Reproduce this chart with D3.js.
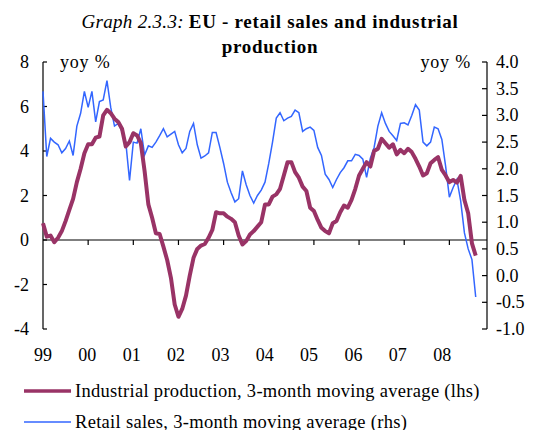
<!DOCTYPE html>
<html>
<head>
<meta charset="utf-8">
<script src="https://cdn.jsdelivr.net/npm/d3@7"></script>
<style>
body { margin: 0; background: #fff; }
text { font-family: "Liberation Serif", "Times New Roman", serif; fill: #000; }
</style>
</head>
<body>
<svg id="chart" width="534" height="430"></svg>
<script>
// monthly data, Jan 1999 - Aug 2008
var years = ["99", "00", "01", "02", "03", "04", "05", "06", "07", "08"];
var leftTicks = [8, 6, 4, 2, 0, -2, -4];
var rightTicks = [4.0, 3.5, 3.0, 2.5, 2.0, 1.5, 1.0, 0.5, 0.0, -0.5, -1.0];

var industrial = [
	0.75, 0.15, 0.2, -0.1, 0.1, 0.4, 0.85, 1.35, 1.85, 2.6, 3.2, 3.9,
	4.3, 4.3, 4.6, 4.65, 5.6, 5.85, 5.7, 5.45, 5.3, 5.0, 4.2, 4.4,
	4.8, 4.7, 4.35, 3.1, 1.6, 1.0, 0.3, 0.27, -0.3, -0.9, -1.7, -2.9,
	-3.45, -3.1, -2.5, -1.6, -0.8, -0.4, -0.25, -0.18, 0.1, 0.45, 1.25, 1.2,
	1.2, 1.05, 0.95, 0.8, 0.2, -0.2, -0.05, 0.25, 0.4, 0.6, 0.8, 1.6,
	1.6, 1.95, 2.05, 2.3, 2.9, 3.5, 3.5, 3.05, 2.8, 2.4, 2.2, 1.45,
	1.3, 0.9, 0.55, 0.4, 0.3, 0.75, 0.85, 1.25, 1.55, 1.45, 1.8, 2.3,
	2.9, 3.2, 3.5, 3.3, 4.0, 4.1, 4.55, 4.35, 4.15, 4.3, 3.85, 4.05,
	3.9, 4.1, 3.95, 3.65, 3.3, 2.9, 3.0, 3.45, 3.6, 3.72, 3.15, 2.9,
	2.6, 2.7, 2.58, 2.88, 1.8, 1.2, -0.15, -0.7
];
var retail = [
	3.45, 2.23, 2.57, 2.5, 2.45, 2.3, 2.38, 2.52, 2.25, 2.8, 3.04, 3.45,
	3.15, 3.45, 2.88, 3.26, 3.29, 3.65, 3.15, 2.8, 2.85, 2.7, 2.5, 1.78,
	2.5, 2.48, 2.75, 2.26, 2.43, 2.4, 2.5, 2.62, 2.75, 2.6, 2.65, 2.7,
	2.45, 2.3, 2.38, 2.7, 2.85, 2.45, 2.2, 2.24, 2.3, 2.68, 2.68, 2.4,
	2.1, 1.75, 1.55, 1.38, 1.44, 1.96, 1.7, 1.5, 1.36, 1.5, 1.6, 1.75,
	2.1, 2.5, 2.95, 3.05, 2.9, 2.95, 2.98, 3.1, 3.05, 2.7, 2.75, 2.78,
	2.72, 2.4, 2.25, 1.9, 1.8, 1.65, 1.8, 1.93, 2.02, 2.15, 2.15, 2.27,
	2.25, 2.18, 1.84, 2.2, 2.4, 2.8, 3.05, 2.85, 2.7, 2.62, 2.53, 2.85,
	2.86, 2.82, 3.0, 3.2, 3.1, 2.5, 2.43, 2.5, 2.78, 2.75, 2.55, 2.05,
	1.47, 1.65, 1.8, 1.4, 0.8, 0.5, 0.3, -0.4
];

var svg = d3.select("#chart");
// plot box (note: "top" would clash with window.top)
var plotLeft = 43, plotRight = 487, plotTop = 62, plotBottom = 329;

var x = d3.scaleLinear().domain([0, 118]).range([plotLeft, plotRight]);
var yL = d3.scaleLinear().domain([-4, 8]).range([plotBottom, plotTop]);
var yR = d3.scaleLinear().domain([-1, 4]).range([plotBottom, plotTop]);

// title
var title = svg.append("text").attr("x", 270).attr("y", 28)
	.attr("text-anchor", "middle").style("font-size", "19px");
title.append("tspan").style("font-style", "italic").style("letter-spacing", "0.3px").text("Graph 2.3.3: ");
title.append("tspan").style("font-weight", "bold").style("letter-spacing", "0.7px")
	.text("EU - retail sales and industrial");
svg.append("text").attr("x", 270).attr("y", 53).attr("text-anchor", "middle")
	.style("font-size", "19px").style("font-weight", "bold").style("letter-spacing", "0.7px")
	.text("production");

// left axis
svg.append("line").attr("x1", plotLeft).attr("x2", plotLeft).attr("y1", plotTop).attr("y2", plotBottom)
	.style("stroke", "#000").style("stroke-width", 1.2);
leftTicks.forEach(function (t) {
	svg.append("line").attr("x1", plotLeft).attr("x2", plotLeft + 4).attr("y1", yL(t)).attr("y2", yL(t))
		.style("stroke", "#000").style("stroke-width", 1.2);
	svg.append("text").attr("x", 29).attr("y", yL(t) + 6).attr("text-anchor", "end")
		.style("font-size", "18px").text(t);
});

// right axis
svg.append("line").attr("x1", plotRight).attr("x2", plotRight).attr("y1", plotTop).attr("y2", plotBottom)
	.style("stroke", "#000").style("stroke-width", 1.2);
rightTicks.forEach(function (t) {
	svg.append("line").attr("x1", plotRight - 5).attr("x2", plotRight).attr("y1", yR(t)).attr("y2", yR(t))
		.style("stroke", "#000").style("stroke-width", 1.2);
	svg.append("text").attr("x", 496).attr("y", yR(t) + 6)
		.style("font-size", "18px").text(t.toFixed(1));
});

svg.append("text").attr("x", 60).attr("y", 68).style("font-size", "18px")
	.style("letter-spacing", "0.8px").text("yoy %");
svg.append("text").attr("x", 471).attr("y", 68).attr("text-anchor", "end")
	.style("font-size", "18px").style("letter-spacing", "0.8px").text("yoy %");

// x axis on the zero line
svg.append("line").attr("x1", plotLeft).attr("x2", plotRight).attr("y1", yL(0)).attr("y2", yL(0))
	.style("stroke", "#000").style("stroke-width", 1.2);
years.forEach(function (yr, i) {
	if (i > 0) {
		svg.append("line").attr("x1", x(i * 12)).attr("x2", x(i * 12))
			.attr("y1", yL(0)).attr("y2", yL(0) + 5)
			.style("stroke", "#000").style("stroke-width", 1.2);
	}
	svg.append("text").attr("x", x(i * 12) - i * 0.8).attr("y", 361)
		.attr("text-anchor", "middle").style("font-size", "18px").text(yr);
});

// lines
var lineL = d3.line().x(function (d, i) { return x(i); }).y(function (d) { return yL(d); });
var lineR = d3.line().x(function (d, i) { return x(i); }).y(function (d) { return yR(d); });

svg.append("path").datum(retail).attr("d", lineR)
	.style("fill", "none").style("stroke", "#3366ff").style("stroke-width", 1.5);
svg.append("path").datum(industrial).attr("d", lineL)
	.style("fill", "none").style("stroke", "#993366").style("stroke-width", 4)
	.style("stroke-linejoin", "round");

// legend
var legend = [
	{name: "Industrial production, 3-month moving average (lhs)", color: "#993366", w: 3.5, y: 391},
	{name: "Retail sales, 3-month moving average (rhs)", color: "#3366ff", w: 1.5, y: 422}
];
legend.forEach(function (d) {
	svg.append("line").attr("x1", 24).attr("x2", 71).attr("y1", d.y).attr("y2", d.y)
		.style("stroke", d.color).style("stroke-width", d.w);
	svg.append("text").attr("x", 75).attr("y", d.y + 6)
		.style("font-size", "18.5px").style("letter-spacing", "0.3px").text(d.name);
});
</script>
</body>
</html>
